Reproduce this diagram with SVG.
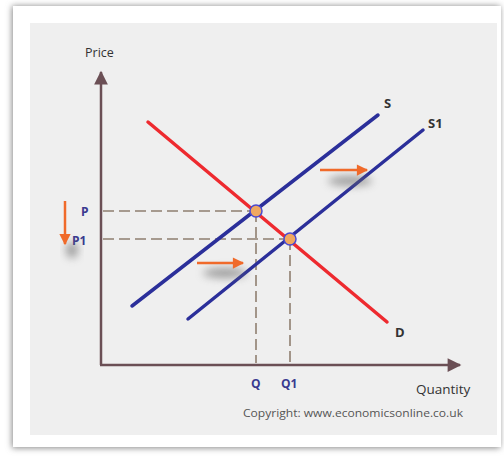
<svg xmlns="http://www.w3.org/2000/svg" width="504" height="457" viewBox="0 0 504 457">
<defs>
<filter id="sh" x="-20%" y="-20%" width="140%" height="140%"><feGaussianBlur stdDeviation="3"/></filter>
<filter id="ash" x="-50%" y="-200%" width="200%" height="500%"><feGaussianBlur stdDeviation="4"/></filter>
<marker id="ah" viewBox="0 0 10 10" refX="9" refY="5" markerWidth="7" markerHeight="5.5" orient="auto" markerUnits="strokeWidth"><path d="M0,0 L10,5 L0,10 Z" fill="#6b4f55"/></marker>
<marker id="oa" viewBox="0 0 10 10" refX="9" refY="5" markerWidth="5" markerHeight="4.5" orient="auto" markerUnits="strokeWidth"><path d="M0,0 L10,5 L0,10 Z" fill="#f06a2a"/></marker>
</defs>
<style>
.ax{stroke:#6b4f55;stroke-width:2.5;fill:none}
.sup{stroke:#2b2f9a;stroke-width:3.5;stroke-linecap:round;fill:none}
.dem{stroke:#ee2a2f;stroke-width:3.5;stroke-linecap:round;fill:none}
.dash{stroke:#8f7f70;stroke-width:1.6;stroke-dasharray:11,5;fill:none}
.oar{stroke:#f06a2a;stroke-width:2.5;fill:none}
.lb{font-family:"Open Sans","Liberation Sans",sans-serif;font-size:12.5px;fill:#333}
.bl{font-family:"Open Sans","Liberation Sans",sans-serif;font-size:12px;font-weight:bold;fill:#3a3a8f}
.dk{font-family:"Open Sans","Liberation Sans",sans-serif;font-size:13px;font-weight:bold;fill:#333}
.pt{fill:#f0a860;stroke:#4a4ad0;stroke-width:1.5}
</style>
<rect x="0" y="0" width="504" height="457" fill="#ffffff"/>
<rect x="12" y="6" width="488" height="442" fill="#888" filter="url(#sh)"/>
<rect x="13" y="6" width="488" height="441" fill="#ffffff"/>
<rect x="30" y="23" width="467" height="412" fill="#efefef"/>
<g id="axes">
<line class="ax" x1="101" y1="365" x2="101" y2="72" marker-end="url(#ah)"/>
<line class="ax" x1="100" y1="365" x2="460" y2="365" marker-end="url(#ah)"/>
<text class="lb" x="85" y="57">Price</text>
<text class="lb" x="416" y="394" style="font-size:13.5px">Quantity</text>
<text class="lb" x="243" y="417" style="font-size:11px;fill:#555" textLength="220" lengthAdjust="spacingAndGlyphs">Copyright: www.economicsonline.co.uk</text>
</g>
<g id="dashes">
<path class="dash" d="M103,211 H256 M103,239 H290 M256,211 V363 M290,239 V363"/>
</g>
<g id="curves">
<line class="sup" x1="132" y1="306" x2="378" y2="115"/>
<line class="sup" x1="188" y1="319" x2="423" y2="130"/>
<line class="dem" x1="148" y1="122" x2="387" y2="322"/>
</g>
<g id="points">
<circle class="pt" cx="256" cy="211" r="6"/>
<circle class="pt" cx="290" cy="239" r="6"/>
</g>
<g id="labels">
<text class="dk" x="384" y="108">S</text>
<text class="dk" x="428" y="128">S1</text>
<text class="dk" x="395" y="337">D</text>
<text class="bl" x="81" y="216">P</text>
<text class="bl" x="72" y="245">P1</text>
<text class="bl" x="251" y="388">Q</text>
<text class="bl" x="281" y="388">Q1</text>
</g>
<g id="arrows">
<ellipse cx="225" cy="273" rx="22" ry="5" fill="#666" opacity="0.6" filter="url(#ash)"/>
<ellipse cx="350" cy="181" rx="22" ry="5" fill="#666" opacity="0.6" filter="url(#ash)"/>
<ellipse cx="72" cy="250" rx="6" ry="8" fill="#666" opacity="0.6" filter="url(#ash)"/>
<line class="oar" x1="197" y1="263" x2="243" y2="263" marker-end="url(#oa)"/>
<line class="oar" x1="320" y1="170" x2="367" y2="170" marker-end="url(#oa)"/>
<line class="oar" x1="65" y1="201" x2="65" y2="244" marker-end="url(#oa)"/>
</g>
</svg>
